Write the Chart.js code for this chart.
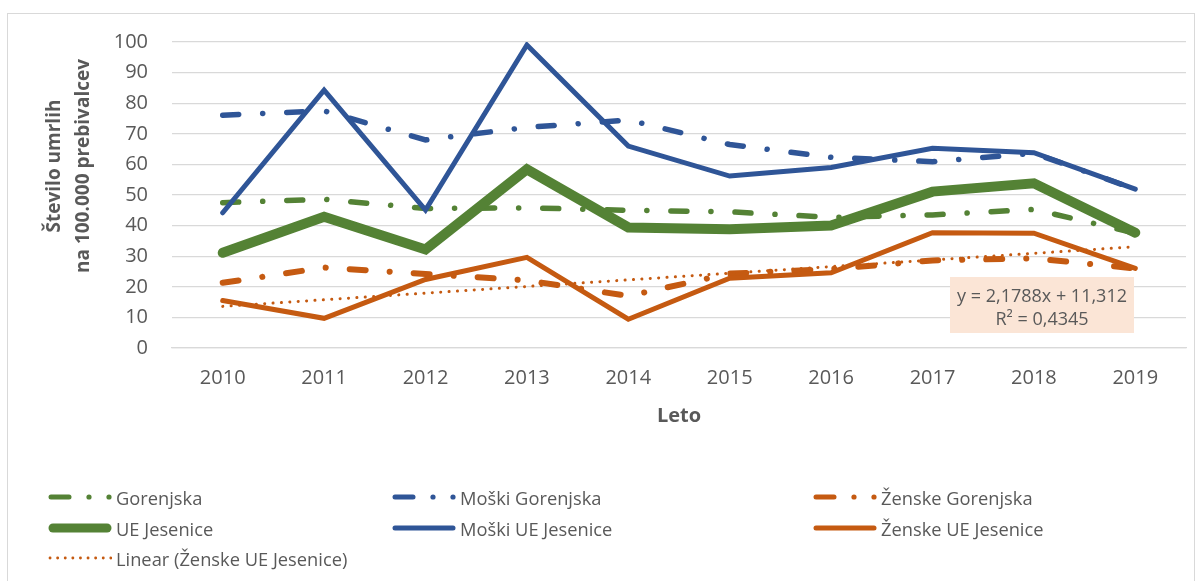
<!DOCTYPE html>
<html>
<head>
<meta charset="utf-8">
<script src="https://cdn.jsdelivr.net/npm/chart.js@4.4.1/dist/chart.umd.min.js"></script>
<style>
  body { margin: 0; background: #fff; }
  #wrap { position: relative; width: 1202px; height: 581px; overflow: hidden; font-family: 'Open Sans', sans-serif; }
  #frame { position: absolute; left: 7px; top: 13px; width: 1188px; height: 600px; border: 1.5px solid #d9d9d9; box-sizing: border-box; }
  canvas { position: absolute; left: 0; top: 0; }
  .leg { position: absolute; display: flex; align-items: center; font-size: 18.3px; color: #595959; white-space: nowrap; }
  .leg svg { margin-right: 4px; }
</style>
</head>
<body>
<div id="wrap">
  <div id="frame"></div>
  <canvas id="myChart" width="1202" height="581"></canvas>
  <div id="legend"></div>
</div>
<script>
// podatki
const leta = ['2010', '2011', '2012', '2013', '2014', '2015', '2016', '2017', '2018', '2019'];
const gorenjska = [47.5, 48.6, 45.6, 45.8, 45.0, 44.5, 42.7, 43.5, 45.3, 37.5];
const moskiGorenjska = [76.1, 77.5, 68.0, 72.1, 74.5, 66.5, 62.3, 60.9, 63.6, 51.9];
const zenskeGorenjska = [21.3, 26.3, 24.2, 22.1, 17.0, 24.3, 25.8, 28.6, 29.3, 26.0];
const ueJesenice = [31.1, 42.9, 32.2, 58.4, 39.4, 38.8, 40.0, 51.1, 53.8, 37.7];
const moskiUE = [44.2, 84.3, 45.1, 99.0, 66.0, 56.2, 59.0, 65.3, 63.8, 51.9];
const zenskeUE = [15.5, 9.7, 22.4, 29.6, 9.4, 22.8, 24.6, 37.7, 37.5, 26.0];
// linearni trend (konca, odcitano s slike)
const trendLeta = ['2010', '2019'];
const trendVrednosti = [13.6, 33.1];
const enacba = ['y = 2,1788x + 11,312', 'R² = 0,4345'];
const osY = ['Število umrlih', 'na 100.000 prebivalcev'];

const zelena = '#548235';
const modra = '#2F5597';
const oranzna = '#C55A11';
const siva = '#595959';
const crtkano = [16, 24, 0.1, 24];

const ctx = document.getElementById('myChart');

const enacbaPlugin = {
  id: 'enacba',
  afterDatasetsDraw(chart) {
    const c = chart.ctx;
    c.save();
    c.fillStyle = '#FBE5D6';
    c.fillRect(950, 277, 184, 56);
    c.fillStyle = siva;
    c.font = '18px "Open Sans"';
    c.textAlign = 'center';
    c.textBaseline = 'middle';
    c.fillText(enacba[0], 1042, 297);
    c.fillText(enacba[1], 1042, 320);
    c.restore();
  }
};

const naslovY = {
  id: 'naslovY',
  afterDraw(chart) {
    const c = chart.ctx;
    c.save();
    c.fillStyle = siva;
    c.font = 'bold 19px "Open Sans"';
    c.textAlign = 'center';
    c.textBaseline = 'middle';
    c.translate(55, 166);
    c.rotate(-Math.PI / 2);
    c.fillText(osY[0], 0, 0);
    c.fillText(osY[1], 0, 29);
    c.restore();
  }
};

const data = {
  labels: leta,
  datasets: [
    { label: 'Gorenjska', data: gorenjska, borderColor: zelena, borderWidth: 5.5, borderDash: crtkano, order: 6 },
    { label: 'Moški Gorenjska', data: moskiGorenjska, borderColor: modra, borderWidth: 5.5, borderDash: crtkano, order: 5 },
    { label: 'Ženske Gorenjska', data: zenskeGorenjska, borderColor: oranzna, borderWidth: 6, borderDash: crtkano, order: 4 },
    { label: 'UE Jesenice', data: ueJesenice, borderColor: zelena, borderWidth: 10, order: 3 },
    { label: 'Moški UE Jesenice', data: moskiUE, borderColor: modra, borderWidth: 5, order: 2 },
    { label: 'Ženske UE Jesenice', data: zenskeUE, borderColor: oranzna, borderWidth: 5, order: 1 },
    { label: 'Linear (Ženske UE Jesenice)', data: trendLeta.map((l, i) => ({ x: l, y: trendVrednosti[i] })),
      borderColor: oranzna, borderWidth: 3, borderDash: [0.1, 8.3], order: 0 }
  ]
};

const options = {
  responsive: false,
  animation: false,
  layout: { padding: { left: 0, right: 16, top: 42, bottom: 153 } },
  elements: {
    point: { radius: 0, hoverRadius: 0 },
    line: { tension: 0, fill: false, borderCapStyle: 'round', borderJoinStyle: 'miter' }
  },
  plugins: { legend: { display: false }, tooltip: { enabled: false } },
  scales: {
    x: {
      offset: true,
      grid: { display: false, drawTicks: false },
      border: { color: '#D9D9D9', width: 1.3 },
      ticks: { color: siva, font: { family: 'Open Sans', size: 20 }, padding: 18, maxRotation: 0 },
      title: { display: true, text: 'Leto', color: siva, font: { family: 'Open Sans', size: 20, weight: 'bold' }, padding: 0 },
      afterFit: s => { s.height = 80; }
    },
    y: {
      min: 0,
      max: 100,
      grid: { color: '#D9D9D9', lineWidth: 1.3, drawTicks: false },
      border: { display: false },
      ticks: { stepSize: 10, color: siva, font: { family: 'Open Sans', size: 20 }, padding: 24 },
      afterFit: s => { s.width = 172; }
    }
  }
};

new Chart(ctx, { type: 'line', data, options, plugins: [enacbaPlugin, naslovY] });

// legenda
const legendaVrste = [
  { t: 'Gorenjska', c: zelena, s: 'dd', x: 48, y: 497 },
  { t: 'Moški Gorenjska', c: modra, s: 'dd', x: 392, y: 497 },
  { t: 'Ženske Gorenjska', c: oranzna, s: 'dd', x: 813, y: 497 },
  { t: 'UE Jesenice', c: zelena, s: 'thick', x: 48, y: 528 },
  { t: 'Moški UE Jesenice', c: modra, s: 'solid', x: 392, y: 528 },
  { t: 'Ženske UE Jesenice', c: oranzna, s: 'solid', x: 813, y: 528 },
  { t: 'Linear (Ženske UE Jesenice)', c: oranzna, s: 'dot', x: 48, y: 558 }
];
const vzorec = (s, c) => {
  if (s === 'dd') return `<line x1="3" y1="7" x2="21" y2="7" stroke="${c}" stroke-width="5" stroke-linecap="round"/>
    <circle cx="41" cy="7" r="2.6" fill="${c}"/><circle cx="61" cy="7" r="2.6" fill="${c}"/>`;
  if (s === 'thick') return `<line x1="5" y1="7" x2="59" y2="7" stroke="${c}" stroke-width="9" stroke-linecap="round"/>`;
  if (s === 'solid') return `<line x1="3" y1="7" x2="61" y2="7" stroke="${c}" stroke-width="5" stroke-linecap="round"/>`;
  return `<line x1="2" y1="7" x2="63" y2="7" stroke="${c}" stroke-width="2.8" stroke-linecap="round" stroke-dasharray="0.1 7.5"/>`;
};
document.getElementById('legend').innerHTML = legendaVrste.map(v =>
  `<div class="leg" style="left:${v.x}px;top:${v.y - 14}px;height:28px">
     <svg width="64" height="14">${vzorec(v.s, v.c)}</svg><span>${v.t}</span></div>`).join('');
</script>
</body>
</html>
